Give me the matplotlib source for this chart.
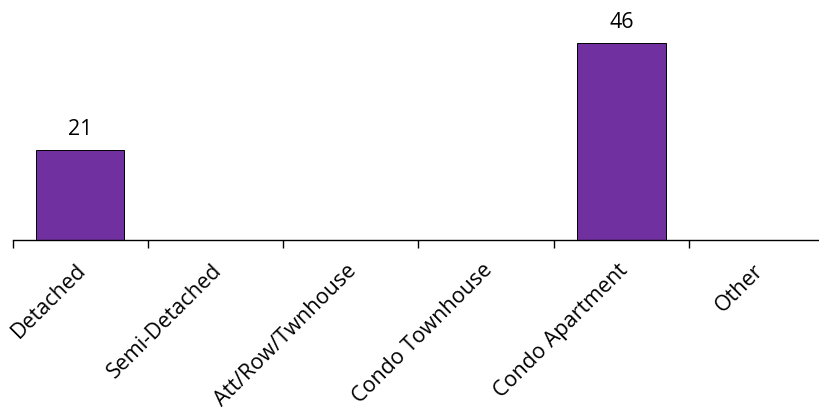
import matplotlib
matplotlib.use("Agg")
import matplotlib.pyplot as plt
import matplotlib.transforms as mtransforms

categories = ["Detached", "Semi-Detached", "Att/Row/Twnhouse", "Condo Townhouse", "Condo Apartment", "Other"]
values = [21, 0, 0, 0, 46, 0]
labels = ["21", "", "", "", "46", ""]

plt.rcParams['font.family'] = ['Open Sans', 'DejaVu Sans']

fig = plt.figure(figsize=(8.19, 4.10), dpi=100)
W, H = 819, 410
ax = fig.add_axes([12.5 / W, (H - 241) / H, 812 / W, 214 / H])

x = list(range(len(categories)))
bars = ax.bar(x, values, width=0.655, color="#7030A0", edgecolor="black", linewidth=0.7, zorder=2)

for xi, v, lab in zip(x, values, labels):
    if lab:
        ax.annotate(lab, (xi, v), xytext=(0, 8), textcoords="offset points",
                    ha="center", va="bottom", fontsize=15.5, color="black")

ax.set_xlim(-0.5, len(categories) - 0.5)
ax.set_ylim(0, 50)
for s in ["top", "right", "left"]:
    ax.spines[s].set_visible(False)
ax.spines["bottom"].set_linewidth(1.0)
ax.set_yticks([])

# tick marks at category boundaries
ax.set_xticks([i - 0.5 for i in range(len(categories) + 1)], minor=False)
ax.set_xticklabels([])
ax.tick_params(axis="x", which="major", length=6, width=1.0, direction="out")
ax.set_xticks(x, minor=True)
ax.set_xticklabels(categories, minor=True, rotation=45, ha="right", va="center",
                   rotation_mode="anchor", fontsize=15.5)
ax.tick_params(axis="x", which="minor", length=0, pad=19)

shift = mtransforms.ScaledTranslation(3 / 100, 0, fig.dpi_scale_trans)
for lbl in ax.get_xticklabels(minor=True):
    lbl.set_transform(lbl.get_transform() + shift)

fig.savefig("out.png", dpi=100)
